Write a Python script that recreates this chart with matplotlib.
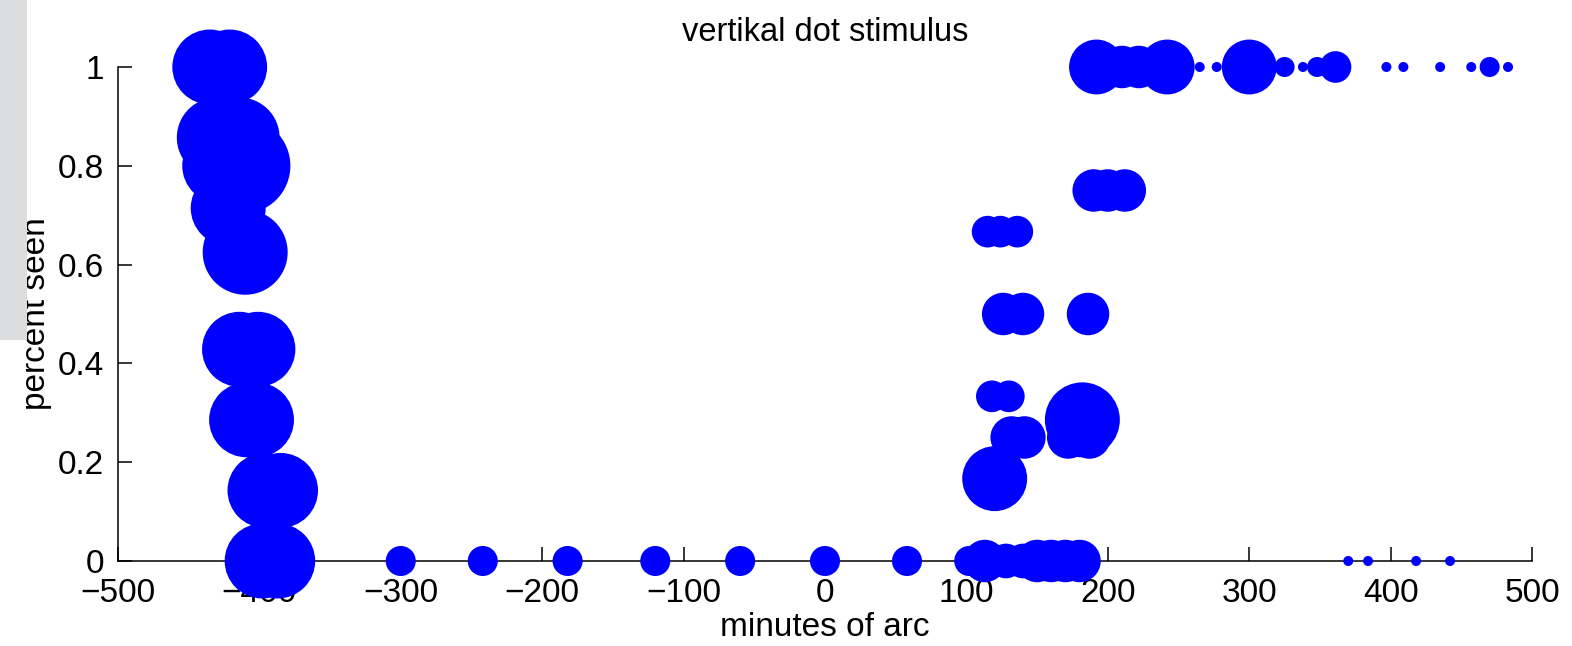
import matplotlib
matplotlib.use("Agg")
import matplotlib.pyplot as plt
import numpy as np

plt.rcParams['font.family'] = ['Liberation Sans', 'DejaVu Sans']

# stimulus position (minutes of arc), fraction seen, weight (~ number of trials, sets dot area)
x_left = [-435, -421, -430, -414, -428, -412, -422, -410, -414, -401, -409, -402, -396, -385, -398, -387]
y_left = [1, 1, 6/7, 6/7, 0.8, 0.8, 5/7, 0.625, 3/7, 3/7, 2/7, 2/7, 1/7, 1/7, 0, 0]
w_left = [56, 56, 64, 64, 56, 92, 56, 72, 56, 56, 56, 56, 56, 56, 56, 56]

x_mid = [-300, -242, -182, -120, -60, 0, 58]
y_mid = [0, 0, 0, 0, 0, 0, 0]
w_mid = [9, 9, 9, 9, 9, 9, 9]

x_right = [102, 113, 128, 140, 150, 160, 170, 180,
           370, 384, 418, 442,
           120,
           132, 141, 172, 187,
           182,
           118, 130,
           126, 140, 186,
           115, 124, 136,
           190, 200, 212,
           192, 210, 222, 242, 265, 277, 300, 325, 338, 348, 361, 397, 409, 435, 457, 470, 483]
y_right = [0, 0, 0, 0, 0, 0, 0, 0,
           0, 0, 0, 0,
           1/6,
           0.25, 0.25, 0.25, 0.25,
           2/7,
           1/3, 1/3,
           0.5, 0.5, 0.5,
           2/3, 2/3, 2/3,
           0.75, 0.75, 0.75,
           1, 1, 1, 1, 1, 1, 1, 1, 1, 1, 1, 1, 1, 1, 1, 1, 1]
w_right = [9, 18, 12, 12, 18, 18, 18, 18,
           1, 1, 1, 1,
           42,
           18, 18, 18, 18,
           56,
           10, 10,
           18, 18, 18,
           10, 10, 10,
           18, 18, 18,
           30, 18, 18, 30, 1, 1, 30, 4, 1, 4, 10, 1, 1, 1, 1, 4, 1]

xs = np.array(x_left + x_mid + x_right, dtype=float)
ys = np.array(y_left + y_mid + y_right, dtype=float)
ws = np.array(w_left + w_mid + w_right, dtype=float)

fig = plt.figure(figsize=(15.72, 6.46), dpi=100)
ax = fig.add_axes([0.075, 0.1316, 0.8996, 0.7647])

ax.scatter(xs, ys, s=52 * ws, c='#0000ff', edgecolors='none', clip_on=False, zorder=3)

ax.set_xlim(-500, 500)
ax.set_ylim(0, 1)
ax.set_xticks(np.arange(-500, 501, 100))
ax.set_yticks([0, 0.2, 0.4, 0.6, 0.8, 1])
ax.set_yticklabels(['0', '0.2', '0.4', '0.6', '0.8', '1'])
ax.spines['top'].set_visible(False)
ax.spines['right'].set_visible(False)
for sp in ['left', 'bottom']:
    ax.spines[sp].set_linewidth(1.1)
ax.tick_params(direction='in', length=10, width=1.1, labelsize=24, colors='black')
ax.tick_params(axis='y', pad=10)
ax.tick_params(axis='x', pad=12.5)

ax.set_title('vertikal dot stimulus', fontsize=23.5, pad=19)
ax.set_xlabel('minutes of arc', fontsize=24, labelpad=2)
ax.set_ylabel('percent seen', fontsize=24, labelpad=4)

# grey strip from the screenshot covering the left edge
strip = plt.Rectangle((0, 1 - 340 / 646), 27 / 1572, 340 / 646, transform=fig.transFigure,
                      facecolor='#dcdddf', edgecolor='none', zorder=10)
fig.add_artist(strip)

fig.savefig('out.png', dpi=100)
